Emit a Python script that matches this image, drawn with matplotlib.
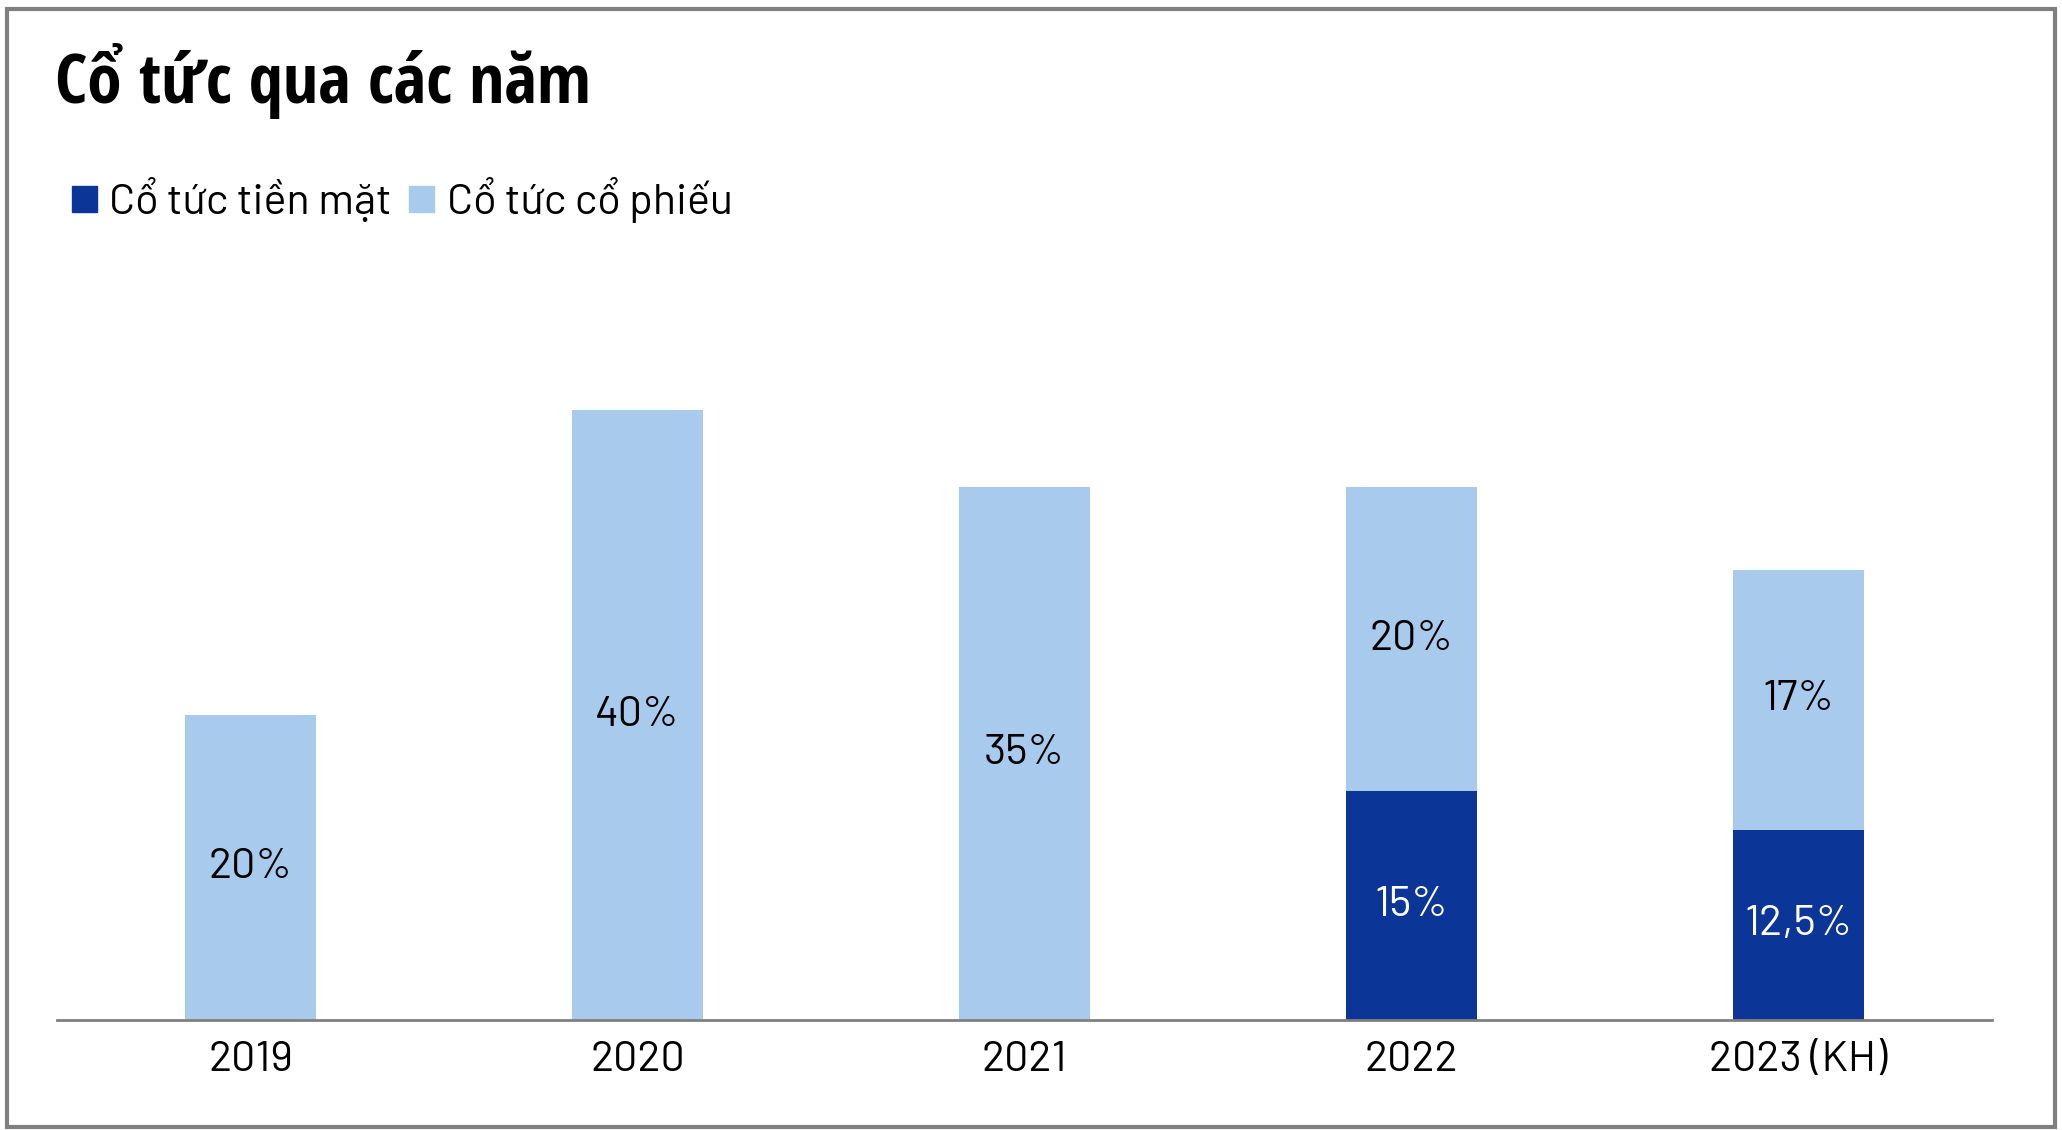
"""Cổ tức qua các năm — stacked bars of cash vs stock dividend."""

import matplotlib
matplotlib.use("Agg")
import matplotlib.pyplot as plt
from matplotlib.patches import Patch, Rectangle

# ── Data ──────────────────────────────────────────────────────────────
years = ["2019", "2020", "2021", "2022", "2023 (KH)"]
cash = [0, 0, 0, 15, 12.5]           # Cổ tức tiền mặt (%)
stock = [20, 40, 35, 20, 17]         # Cổ tức cổ phiếu (%)
cash_labels = ["", "", "", "15%", "12,5%"]
stock_labels = ["20%", "40%", "35%", "20%", "17%"]

DARK = "#0B3596"
LIGHT = "#A8CAEC"
GRAY = "#808080"
BODY = ["Barlow", "Open Sans", "DejaVu Sans"]
TITLE = ["Open Sans Condensed", "Open Sans", "DejaVu Sans"]
FS = 31

W, H = 2062, 1130
fig = plt.figure(figsize=(W / 100, H / 100), dpi=100)
fig.patch.set_facecolor("white")

# axes placed by pixel: left 57, right 1992, bottom 1020, top 258
ax = fig.add_axes([57 / W, 1 - 1020 / H, (1992 - 57) / W, (1020 - 258) / H])

x = range(len(years))
ax.bar(x, cash, width=0.34, color=DARK, label="Cổ tức tiền mặt")
ax.bar(x, stock, width=0.34, bottom=cash, color=LIGHT, label="Cổ tức cổ phiếu")

for i in x:
    if cash[i] > 0:
        ax.text(i, cash[i] / 2, cash_labels[i], ha="center", va="center",
                color="white", fontsize=FS, family=BODY)
    ax.text(i, cash[i] + stock[i] / 2, stock_labels[i], ha="center",
            va="center", color="black", fontsize=FS, family=BODY)

ax.set_xlim(-0.5, 4.5)
ax.set_ylim(0, 50)
ax.set_xticks(list(x))
ax.set_xticklabels(years, family=BODY, fontsize=FS)
ax.tick_params(axis="x", length=0, pad=15)
ax.set_yticks([])
for side in ("top", "right", "left"):
    ax.spines[side].set_visible(False)
ax.spines["bottom"].set_color(GRAY)
ax.spines["bottom"].set_linewidth(2)

# Title
fig.text(55 / W, 1 - 103 / H, "Cổ tức qua các năm", ha="left",
         va="baseline", fontsize=50, fontweight="bold", family=TITLE)

# Legend
handles = [Patch(color=DARK, label="Cổ tức tiền mặt"),
           Patch(color=LIGHT, label="Cổ tức cổ phiếu")]
fig.legend(handles=handles, loc="center left",
           bbox_to_anchor=(72 / W, 1 - 200 / H), ncol=2, frameon=False,
           prop={"family": BODY, "size": FS}, handlelength=0.57,
           handleheight=0.57, handletextpad=0.3, columnspacing=0.4,
           borderpad=0, borderaxespad=0)

# Outer frame
fig.patches.append(Rectangle((7 / W, 1 - 1127 / H), (2055 - 7) / W,
                             (1127 - 9) / H, transform=fig.transFigure,
                             fill=False, edgecolor=GRAY, linewidth=3))

fig.savefig("out.png", dpi=100)
